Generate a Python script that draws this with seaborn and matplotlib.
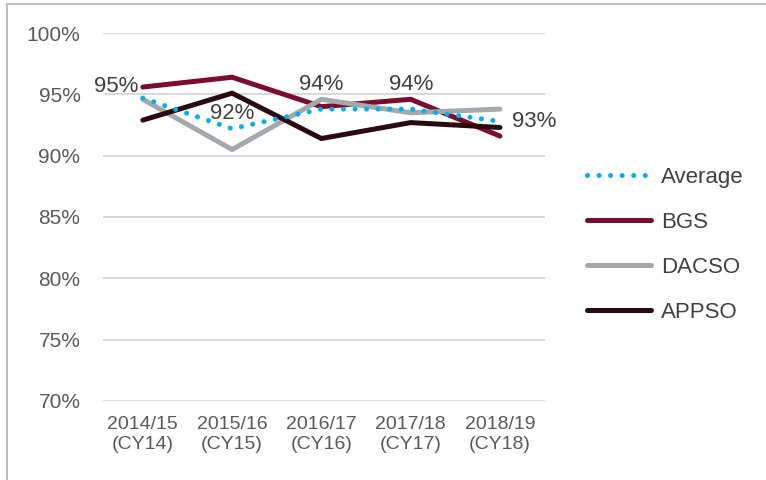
import numpy as np
import pandas as pd
import matplotlib
matplotlib.use("Agg")
import matplotlib.pyplot as plt
from matplotlib.lines import Line2D
import seaborn as sns

years = ["2014/15\n(CY14)", "2015/16\n(CY15)", "2016/17\n(CY16)", "2017/18\n(CY17)", "2018/19\n(CY18)"]
average = [94.7, 92.2, 93.8, 93.8, 92.8]
bgs = [95.6, 96.4, 94.0, 94.6, 91.6]
dacso = [94.6, 90.5, 94.6, 93.5, 93.8]
appso = [92.9, 95.1, 91.4, 92.7, 92.3]
avg_labels = ["95%", "92%", "94%", "94%", "93%"]

series = ["Average", "BGS", "DACSO", "APPSO"]
colors = ["#00B0F0", "#7B0C2D", "#A5A8AA", "#2A0A10"]

df = pd.concat([
    pd.DataFrame({"year": years, "value": v, "series": s})
    for s, v in zip(series, [average, bgs, dacso, appso])
])

sns.set_style("white")
plt.rcParams["font.family"] = ["Liberation Sans", "DejaVu Sans"]

fig = plt.figure(figsize=(7.66, 4.8), dpi=100)
ax = fig.add_axes([0.134, 0.165, 0.577, 0.766])

sns.lineplot(data=df, x="year", y="value", hue="series", palette=dict(zip(series, colors)),
             sort=False, linewidth=3.6, ax=ax, legend=False)

# dotted average line
avg_line = ax.lines[0]
avg_line.set_linestyle((0, (0.01, 2.3)))
avg_line.set_dash_capstyle("round")
avg_line.set_zorder(3)

ax.set_ylim(70, 100)
ax.set_xlim(-0.45, 4.5)
ax.set_yticks(np.arange(70, 101, 5))
ax.set_yticklabels([f"{v}%" for v in range(70, 101, 5)])
ax.set_xlabel("")
ax.set_ylabel("")
ax.grid(axis="y", color="#D9D9D9", linewidth=1.5)
ax.grid(axis="x", visible=False)
for sp in ax.spines.values():
    sp.set_visible(False)
ax.tick_params(axis="both", length=0, labelcolor="#595959")
ax.tick_params(axis="y", pad=16, labelsize=15)
ax.tick_params(axis="x", pad=11, labelsize=14)

# data labels for the average
offsets = [(-3, 8, "right"), (0, 11, "center"), (0, 18, "center"), (0, 18, "center"), (9, 0, "left")]
for i, (lab, (dx, dy, ha)) in enumerate(zip(avg_labels, offsets)):
    ax.annotate(lab, (i, average[i]), xytext=(dx, dy), textcoords="offset points",
                ha=ha, va="center", fontsize=16, color="#404040", zorder=5)

handles = []
for s, c in zip(series, colors):
    if s == "Average":
        h = Line2D([], [], color=c, linewidth=3.6, linestyle=(0, (0.01, 2.3)), dash_capstyle="round")
    else:
        h = Line2D([], [], color=c, linewidth=3.6, solid_capstyle="round")
    handles.append(h)
leg = fig.legend(handles, series, loc="center left", bbox_to_anchor=(0.74, 0.49),
                 frameon=False, fontsize=16, handlelength=2.9, handletextpad=0.45,
                 labelspacing=1.08, labelcolor="#404040")

# chart frame (left and top edges visible)
fig.add_artist(Line2D([0.009, 0.009], [0.0, 0.992], color="#BFBFBF", linewidth=1.5))
fig.add_artist(Line2D([0.009, 1.0], [0.992, 0.992], color="#BFBFBF", linewidth=1.5))

fig.savefig("out.png", dpi=100)
